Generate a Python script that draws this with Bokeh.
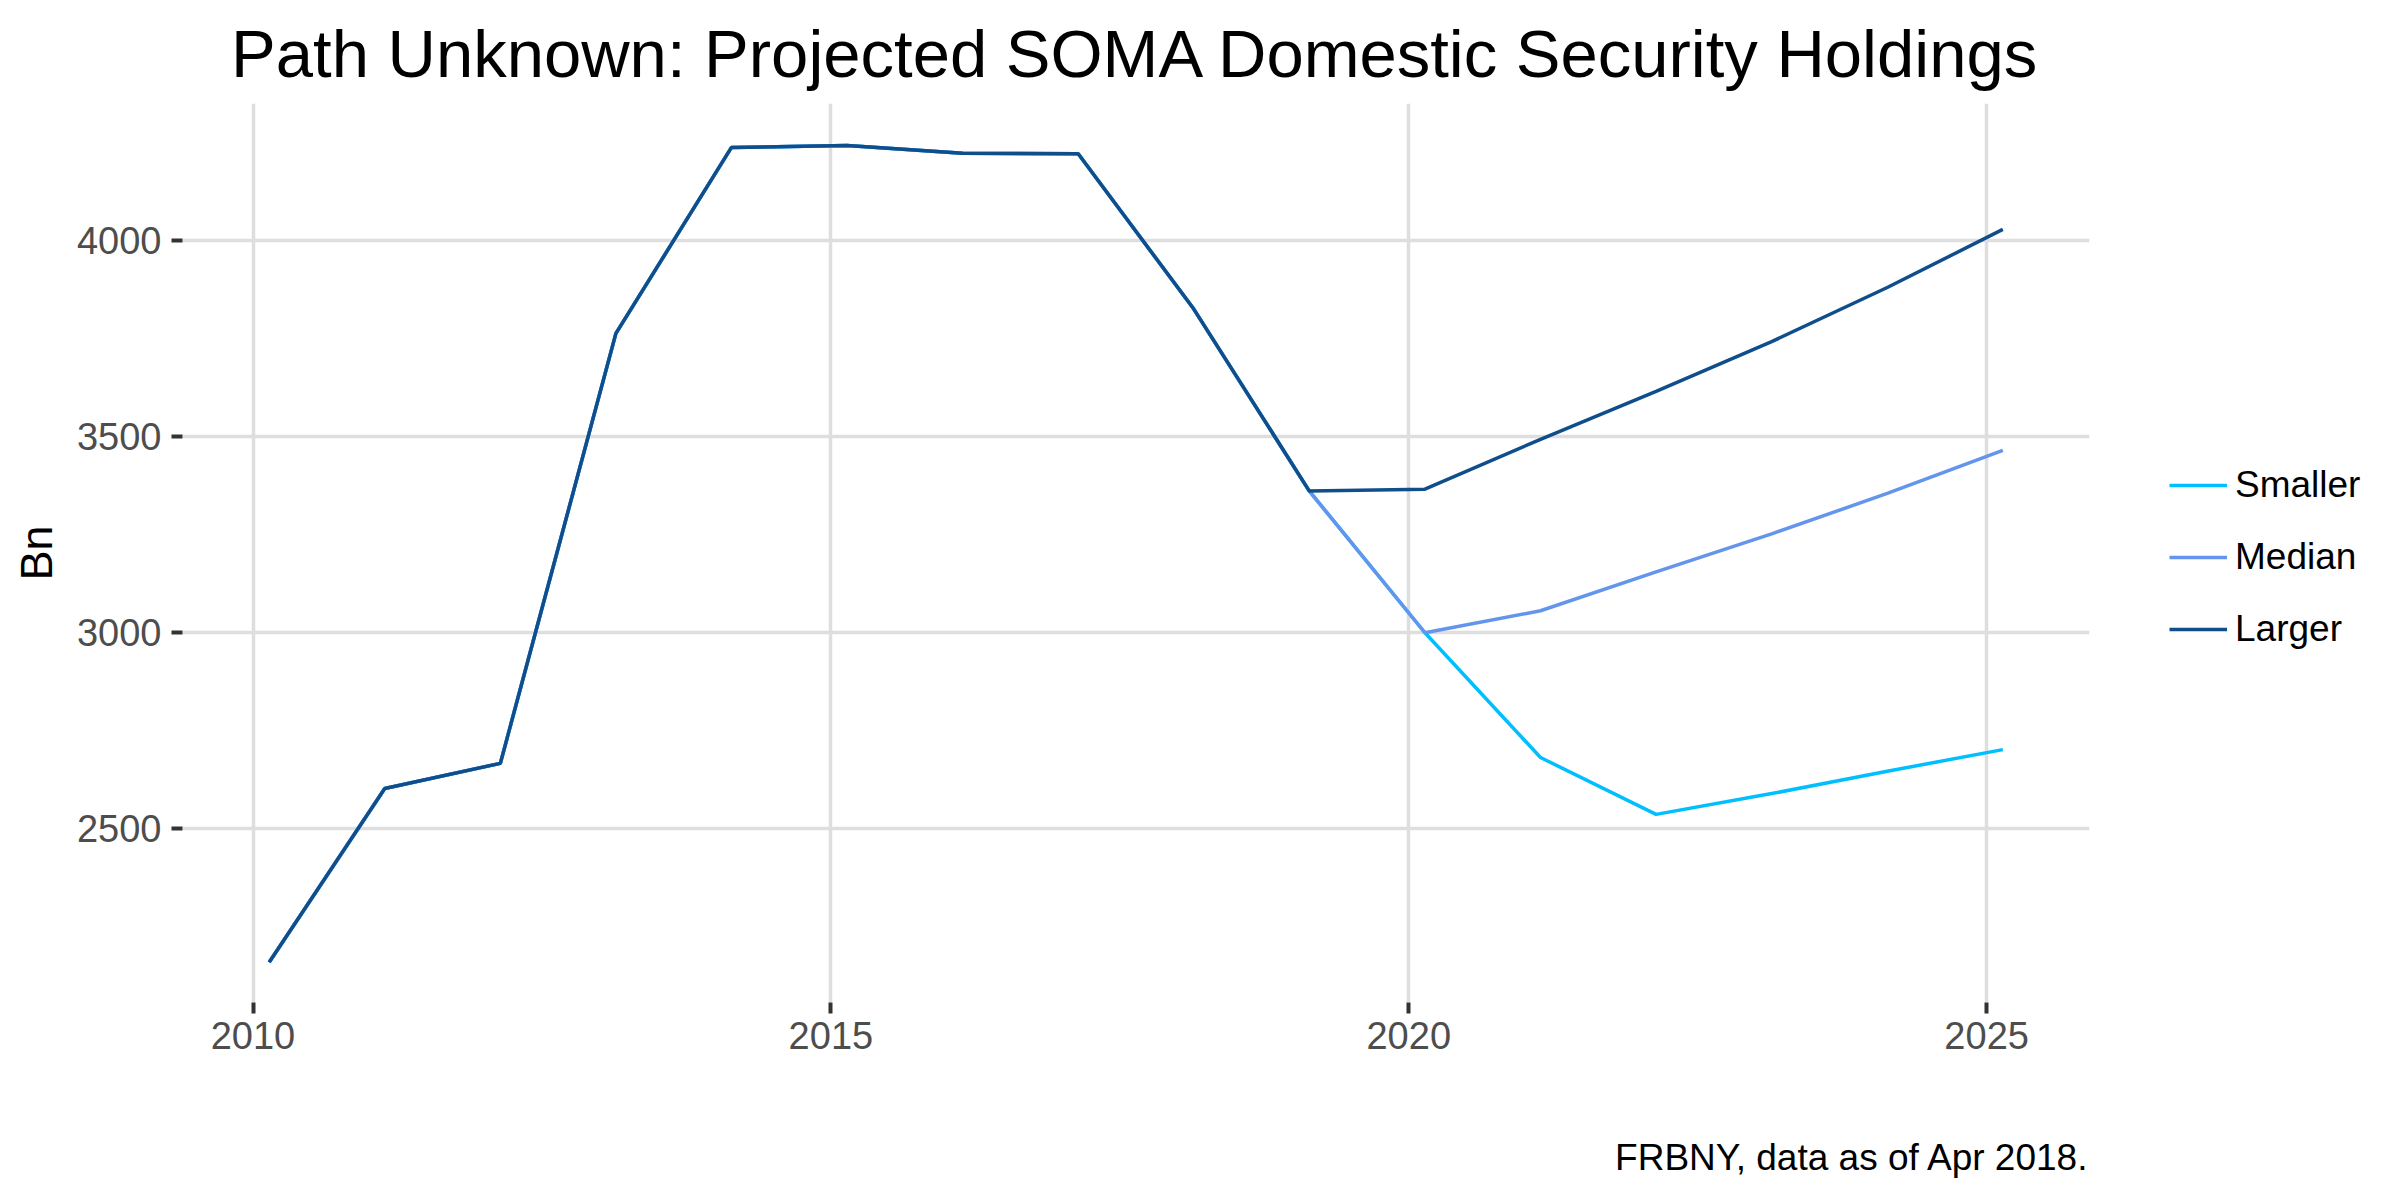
from bokeh.plotting import figure
from bokeh.models import Range1d, FixedTicker, Legend, LegendItem, Title
from bokeh.embed import file_html
from bokeh.resources import INLINE

# Data (decimal years, billions)
years = [2010.14, 2011.14, 2012.14, 2013.14, 2014.14, 2015.14, 2016.14, 2017.14,
         2018.14, 2019.14, 2020.14, 2021.14, 2022.14, 2023.14, 2024.14, 2025.14]
history = [2160, 2603, 2667, 3763, 4237, 4242, 4222, 4221, 3825, 3361]
smaller = history + [3000, 2682, 2537, 2590, 2647, 2702]
median = history + [3000, 3056, 3155, 3252, 3355, 3465]
larger = history + [3366, 3493, 3615, 3742, 3880, 4028]
series_names = ["Smaller", "Median", "Larger"]
series_colors = ["#00BFFF", "#6495ED", "#104E8B"]
x_ticks = [2010, 2015, 2020, 2025]
y_ticks = [2500, 3000, 3500, 4000]
title_text = "Path Unknown: Projected SOMA Domestic Security Holdings"
caption_text = "FRBNY, data as of Apr 2018."

FONT = "Liberation Sans"
FW, FH = 1907, 899

p = figure(frame_width=FW, frame_height=FH, output_backend="svg", toolbar_location=None,
           x_range=Range1d(2009.39, 2025.89), y_range=Range1d(2057.5, 4349),
           min_border_left=182, min_border_right=311, min_border_top=103,
           min_border_bottom=198)
p.outline_line_color = None
p.background_fill_color = "white"
p.border_fill_color = "white"

p.title.text = title_text
p.title.text_font = FONT
p.title.text_font_size = "67px"
p.title.text_font_style = "normal"
p.title.text_color = "black"
p.title.align = "center"
p.title.standoff = 26

renderers = []
for name, vals, col in zip(series_names, [smaller, median, larger], series_colors):
    r = p.line(years, vals, line_color=col, line_width=3.5)
    renderers.append((name, r))

for ax in (p.xaxis[0], p.yaxis[0]):
    ax.axis_line_color = None
    ax.major_tick_line_color = "#333333"
    ax.major_tick_line_width = 4
    ax.major_tick_out = 11
    ax.major_tick_in = 0
    ax.minor_tick_line_color = None
    ax.major_label_text_font = FONT
    ax.major_label_text_font_size = "38px"
    ax.major_label_text_color = "#4D4D4D"

p.xaxis[0].ticker = FixedTicker(ticks=x_ticks)
p.yaxis[0].ticker = FixedTicker(ticks=y_ticks)
p.xaxis[0].major_label_standoff = 8
p.yaxis[0].major_label_standoff = 10
p.yaxis[0].axis_label = "Bn"
p.yaxis[0].axis_label_text_font = FONT
p.yaxis[0].axis_label_text_font_size = "45px"
p.yaxis[0].axis_label_text_font_style = "normal"
p.yaxis[0].axis_label_text_color = "black"
p.yaxis[0].axis_label_standoff = 12

p.xgrid[0].ticker = FixedTicker(ticks=x_ticks)
p.ygrid[0].ticker = FixedTicker(ticks=y_ticks)
for g in (p.xgrid[0], p.ygrid[0]):
    g.grid_line_color = "#DEDEDE"
    g.grid_line_width = 3.5
    g.minor_grid_line_color = None

# Legend in the right-hand panel, placed by screen offsets within that panel
legend = Legend(items=[LegendItem(label=n, renderers=[r]) for n, r in renderers],
                location=(80, 352))
legend.border_line_color = None
legend.background_fill_alpha = 0
legend.label_text_font = FONT
legend.label_text_font_size = "37px"
legend.label_text_color = "black"
legend.glyph_width = 58
legend.glyph_height = 42
legend.label_height = 42
legend.label_standoff = 8
legend.spacing = 30
legend.margin = 0
legend.padding = 10
p.add_layout(legend, "right")

# blank spacer between the x axis and the caption
spacer = Title(text=" ", text_font=FONT, text_font_size="37px", standoff=38)
p.add_layout(spacer, "below")
caption = Title(text=caption_text, align="right", vertical_align="bottom",
                text_font=FONT, text_font_size="37px", text_font_style="normal",
                text_color="black", standoff=4)
p.add_layout(caption, "below")

open("out.html", "w").write(file_html(p, INLINE))
